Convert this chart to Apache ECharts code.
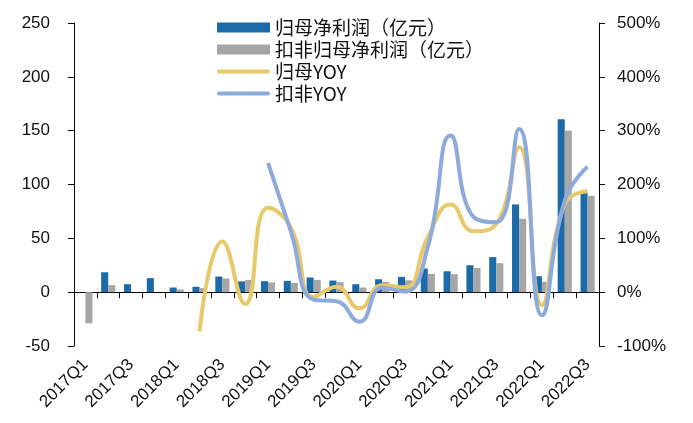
<!DOCTYPE html>
<html>
<head>
<meta charset="utf-8">
<script src="https://cdn.jsdelivr.net/npm/echarts@6/dist/echarts.min.js"></script>
<style>
html,body{margin:0;padding:0;background:#fff;}
#c{width:693px;height:423px;}
</style>
</head>
<body>
<div id="c"></div>
<script>
var categories = ['2017Q1','2017Q2','2017Q3','2017Q4','2018Q1','2018Q2','2018Q3','2018Q4',
  '2019Q1','2019Q2','2019Q3','2019Q4','2020Q1','2020Q2','2020Q3','2020Q4',
  '2021Q1','2021Q2','2021Q3','2021Q4','2022Q1','2022Q2','2022Q3'];
var netProfit = [0, 18.5, 7.4, 13, 4.3, 5, 14.5, 10, 10.2, 10.5, 13.6, 10.8, 7.4, 12, 14.2, 22, 19.4, 25, 32.6, 81.5, 14.8, 160.5, 92];
var netProfitExcl = [-29, 6.5, 0, 0, 2.5, 3.7, 12.7, 11.4, 9, 8.6, 11.4, 9.3, 4.3, 9.6, 11, 17, 16.7, 22.5, 26.9, 68.2, 9.6, 150, 89.5];
var yoy = [null, null, null, null, null, -73, 94, -22, 157, 120, -9, 10, -30, 13, 9, 102, 163, 113, 127, 269, -24, 164, 188];
var yoyExcl = [null, null, null, null, null, null, null, null, 240, 113, -14, -17, -55, 8, 1, 84, 291, 140, 130, 303, -43, 170, 233];
var leftTicks = {min: -50, max: 250, interval: 50};
var rightTicks = {min: -100, max: 500, interval: 100};

var names = ['归母净利润（亿元）', '扣非归母净利润（亿元）', '归母YOY', '扣非YOY'];
var chart = echarts.init(document.getElementById('c'));
var axisColor = '#000';
var lineIcon = 'path://M2,0H51A2,2,0,0,1,51,4H2A2,2,0,0,1,2,0Z';
chart.setOption({
  animation: false,
  textStyle: {fontFamily: 'Liberation Sans, Arial, Noto Sans CJK SC'},
  grid: {left: 74, right: 94, top: 23, bottom: 77},
  legend: {
    orient: 'vertical', left: 212, top: 13,
    itemWidth: 53, itemHeight: 10, itemGap: 3,
    symbolKeepAspect: true,
    textStyle: {fontSize: 19, color: '#111', fontFamily: 'Noto Sans CJK SC'},
    data: [
      {name: names[0], icon: 'rect'},
      {name: names[1], icon: 'rect'},
      {name: names[2], icon: lineIcon},
      {name: names[3], icon: lineIcon}
    ]
  },
  xAxis: [{
    type: 'category', data: categories, position: 'bottom',
    axisLine: {onZero: true, lineStyle: {color: axisColor, width: 1}},
    axisTick: {show: true, interval: 0, length: 6, lineStyle: {color: axisColor}},
    axisLabel: {show: false}
  }, {
    type: 'category', data: categories, position: 'bottom',
    axisLine: {show: false, onZero: false},
    axisTick: {show: false},
    axisLabel: {interval: 1, rotate: 45, fontSize: 17, color: '#111', margin: 16}
  }],
  yAxis: [{
    type: 'value', min: leftTicks.min, max: leftTicks.max, interval: leftTicks.interval,
    axisLine: {show: true, lineStyle: {color: axisColor}},
    axisTick: {show: true, length: 6, lineStyle: {color: axisColor}},
    splitLine: {show: false},
    axisLabel: {fontSize: 17, color: '#111', margin: 24}
  }, {
    type: 'value', min: rightTicks.min, max: rightTicks.max, interval: rightTicks.interval,
    position: 'right',
    axisLine: {show: true, lineStyle: {color: axisColor}},
    axisTick: {show: true, length: 6, lineStyle: {color: axisColor}},
    splitLine: {show: false},
    axisLabel: {fontSize: 17, color: '#111', margin: 18, formatter: '{value}%'}
  }],
  series: [{
    name: names[0], type: 'bar', data: netProfit, xAxisIndex: 0, yAxisIndex: 0,
    barGap: '0%', barCategoryGap: '38%', itemStyle: {color: '#1c6aa7'}
  }, {
    name: names[1], type: 'bar', data: netProfitExcl, xAxisIndex: 0, yAxisIndex: 0,
    barGap: '0%', barCategoryGap: '38%', itemStyle: {color: '#a6a6a6'}
  }, {
    name: names[2], type: 'line', data: yoy, xAxisIndex: 0, yAxisIndex: 1,
    smooth: 0.5, symbol: 'none', lineStyle: {color: '#e8c96a', width: 4}, itemStyle: {color: '#e8c96a'}
  }, {
    name: names[3], type: 'line', data: yoyExcl, xAxisIndex: 0, yAxisIndex: 1,
    smooth: 0.5, symbol: 'none', lineStyle: {color: '#8eaadc', width: 4}, itemStyle: {color: '#8eaadc'}
  }]
});
</script>
</body>
</html>
